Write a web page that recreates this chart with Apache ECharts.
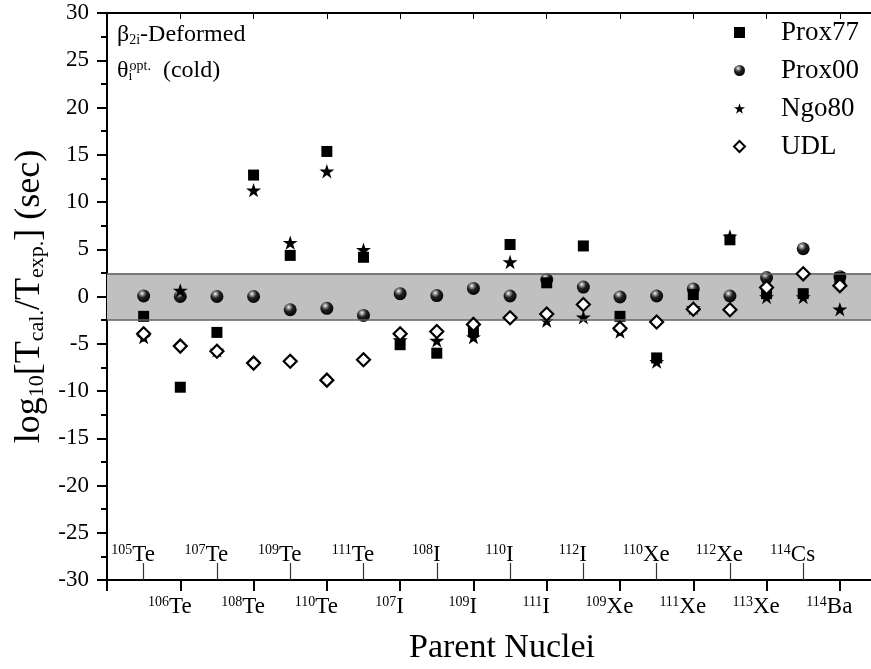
<!DOCTYPE html>
<html>
<head>
<meta charset="utf-8">
<script src="https://cdn.jsdelivr.net/npm/echarts@6/dist/echarts.min.js"></script>
<style>
html,body{margin:0;padding:0;background:#fff;}
#chart{width:871px;height:669px;}
</style>
</head>
<body>
<div id="chart"></div>
<script>
// ---- data ----
const nucleusIndex = [1,2,3,4,5,6,7,8,9,10,11,12,13,14,15,16,17,18,19,20];
const massNumbers = [105,106,107,108,109,110,111,107,108,109,110,111,112,109,110,111,112,113,114,114];
const elements = ['Te','Te','Te','Te','Te','Te','Te','I','I','I','I','I','I','Xe','Xe','Xe','Xe','Xe','Cs','Ba'];
const lowerLabelIdx = [2,4,6,8,10,12,14,16,18,20];
const upperLabelIdx = [1,3,5,7,9,11,13,15,17,19];
const prox77 = [-2.1,-9.6,-3.8,12.85,4.35,15.35,4.15,-5.1,-6.0,-3.6,5.5,1.45,5.35,-2.1,-6.5,0.2,6.0,0.3,0.3,2.0];
const prox00 = [0.05,0.0,0.0,0.0,-1.4,-1.25,-2.0,0.3,0.1,0.85,0.05,1.8,1.0,-0.05,0.05,0.8,0.05,2.0,5.05,2.1];
const ngo80  = [-4.3,0.65,-5.7,11.25,5.7,13.25,4.95,-4.6,-4.65,-4.3,3.65,-2.55,-2.2,-3.7,-6.9,-1.2,6.35,-0.05,-0.05,-1.35];
const udl    = [-3.95,-5.25,-5.8,-7.05,-6.85,-8.85,-6.7,-3.95,-3.7,-2.95,-2.25,-1.85,-0.85,-3.35,-2.7,-1.35,-1.4,0.95,2.4,1.15];
const band = [-2.45, 2.45];
const yTicks = {min:-30, max:30, interval:5};

const FONT = '"Liberation Serif", "Times New Roman", serif';
const pair = (ys) => nucleusIndex.map((x,i)=>[x, ys[i]]);
const labelFor = (v) => {
  const i = Math.round(v) - 1;
  if (i < 0 || i >= massNumbers.length) return '';
  return '{sup|' + massNumbers[i] + '}{el|' + elements[i] + '}{pad|}';
};
const tickRich = {
  sup: {fontFamily: FONT, fontSize: 14, color:'#000', verticalAlign:'top', lineHeight: 14},
  el: {fontFamily: FONT, fontSize: 23, color:'#000', verticalAlign:'bottom', lineHeight: 23, padding:[5,0,0,0]},
  pad: {width: 21}
};
const starPath = 'path://M50,2 L61.8,38.2 L99.5,38.2 L69,60.5 L80.6,96.6 L50,74.4 L19.4,96.6 L31,60.5 L0.5,38.2 L38.2,38.2 Z';
const ball = {type:'radial', x:0.38, y:0.3, r:0.75, colorStops:[
  {offset:0, color:'#ffffff'},{offset:0.16, color:'#a0a0a0'},{offset:0.45, color:'#222222'},{offset:1, color:'#000000'}]};

const txt = (size, va, extra) => Object.assign({fontFamily:FONT, fontSize:size, fontWeight:'normal', color:'#000', verticalAlign:va, lineHeight:size}, extra || {});

const chart = echarts.init(document.getElementById('chart'), null, {renderer:'canvas'});
const xMax = 20.85;
chart.setOption({
  animation: false,
  backgroundColor: '#fff',
  title: [
    { text: '{b|β}{s|2i}{n|-Deformed}', left: 117, top: 23, padding: 0,
      textStyle: { fontWeight:'normal', rich: {
        b: txt(24,'top'),
        s: txt(14,'bottom',{padding:[14,0,0,0]}),
        n: txt(24,'top')
      }}},
    { text: '{b|θ}{s|i}{p|opt.}{n|  (cold)}', left: 117, top: 59, padding: 0,
      textStyle: { fontWeight:'normal', rich: {
        b: txt(24,'bottom',{padding:[6,0,0,0]}),
        s: txt(14,'bottom',{padding:[21,0,0,0], width:1}),
        p: txt(14,'top'),
        n: txt(24,'bottom',{padding:[6,0,0,0]})
      }}}
  ],
  legend: {
    orient: 'vertical', left: 733, top: 19, padding: 0,
    itemWidth: 11, itemHeight: 11, itemGap: 11,
    formatter: (name) => '{g|}' + name,
    textStyle: { fontFamily: FONT, fontSize: 27, color:'#000', lineHeight: 27, rich: { g: {width: 31} } },
    data: ['Prox77','Prox00','Ngo80','UDL']
  },
  grid: { left: 107, right: 0, top: 13, bottom: 89, containLabel: false, outerBoundsMode: 'none' },
  xAxis: [
    { type:'value', min:0, max:xMax, position:'bottom',
      name:'Parent Nuclei', nameLocation:'middle', nameGap: 51, nameMoveOverlap: false,
      nameTextStyle:{fontFamily:FONT, fontSize:34, color:'#000', padding:[0,0,0,26]},
      axisLine:{show:true, onZero:false, lineStyle:{color:'#000', width:2}},
      axisTick:{show:true, inside:false, length:11, lineStyle:{color:'#000', width:2}, customValues:[0].concat(lowerLabelIdx)},
      axisLabel:{show:true, margin:15, customValues: lowerLabelIdx, formatter: labelFor, rich: tickRich},
      splitLine:{show:false} },
    { type:'value', min:0, max:xMax, position:'bottom',
      axisLine:{show:true, onZero:false, lineStyle:{color:'#000', width:2}},
      axisTick:{show:true, inside:true, length:17, lineStyle:{color:'#333', width:1.2}, customValues: upperLabelIdx},
      axisLabel:{show:true, inside:true, margin:14, customValues: upperLabelIdx, formatter: labelFor, rich: tickRich},
      splitLine:{show:false} },
    { type:'value', min:0, max:xMax, position:'top',
      axisLine:{show:true, onZero:false, lineStyle:{color:'#000', width:2}},
      axisTick:{show:true, inside:true, length:6, lineStyle:{color:'#000', width:1}, customValues: lowerLabelIdx},
      axisLabel:{show:false}, splitLine:{show:false} }
  ],
  yAxis: [{
    type:'value', min:yTicks.min, max:yTicks.max, interval:yTicks.interval,
    name: '{m|log}{s|10}{m|[T}{s|cal.}{m|/T}{s|exp.}{m|] (sec)}',
    nameLocation:'middle', nameRotate: 90, nameGap: 59, nameMoveOverlap: false,
    nameTextStyle:{ rich: {
      m: txt(36,'top',{padding:[0,0,9,0]}),
      s: txt(22,'bottom')
    }},
    axisLine:{show:true, onZero:false, lineStyle:{color:'#000', width:2}},
    axisTick:{show:true, inside:false, length:10, lineStyle:{color:'#000', width:2}},
    minorTick:{show:true, splitNumber:2, length:6, lineStyle:{color:'#000', width:2}},
    axisLabel:{fontFamily:FONT, fontSize:23, color:'#000', margin:18},
    splitLine:{show:false}
  }],
  series: [
    { name:'Prox00', type:'scatter', data: pair(prox00), symbol:'circle', symbolSize:13, z:2,
      itemStyle:{color: ball, opacity:1},
      markArea:{ silent:true, itemStyle:{color:'#c0c0c0', borderWidth:0, opacity:1}, data:[[{yAxis: band[1]},{yAxis: band[0]}]] },
      markLine:{ silent:true, symbol:['none','none'], label:{show:false},
        lineStyle:{color:'#606060', width:1.6, type:'solid', opacity:1}, data:[{yAxis: band[1]},{yAxis: band[0]}] } },
    { name:'Ngo80', type:'scatter', data: pair(ngo80), symbol: starPath, symbolSize:15, symbolKeepAspect:true, z:3,
      itemStyle:{color:'#000', opacity:1} },
    { name:'Prox77', type:'scatter', data: pair(prox77), symbol:'rect', symbolSize:11, z:4,
      itemStyle:{color:'#000', opacity:1} },
    { name:'UDL', type:'scatter', data: pair(udl), symbol:'diamond', symbolSize:13, z:5,
      itemStyle:{color:'#fff', borderColor:'#000', borderWidth:2.2, opacity:1} }
  ]
});
</script>
</body>
</html>
